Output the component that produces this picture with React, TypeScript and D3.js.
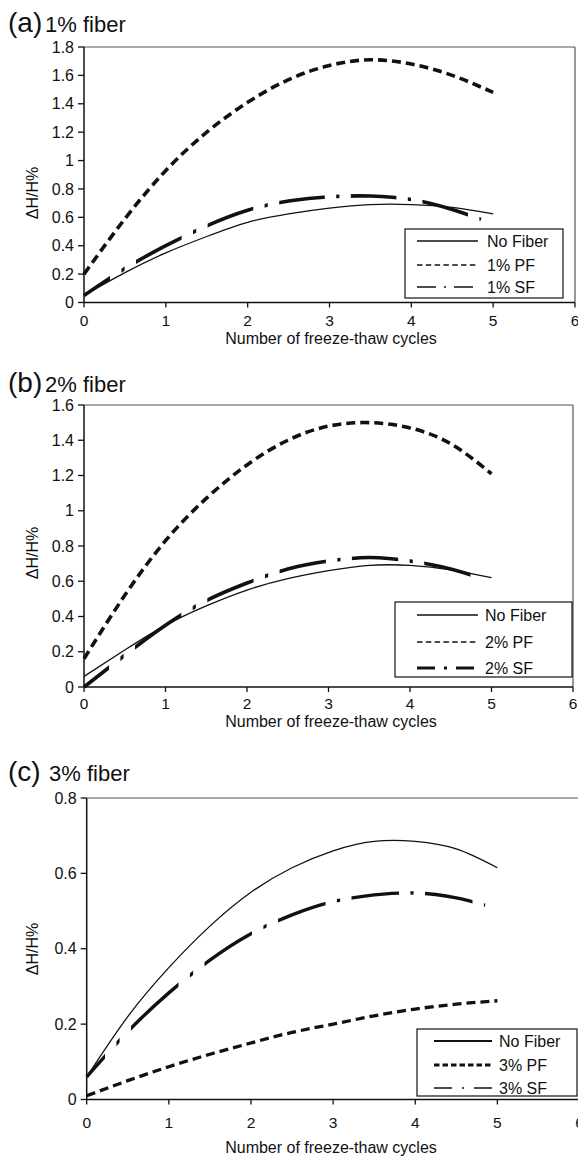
import React from "react";
import * as d3 from "d3";

// ---------- data ----------
const cycles = [0, 0.5, 1, 1.5, 2, 2.5, 3, 3.5, 4, 4.5, 5];
const cyclesSF = [0, 0.5, 1, 1.5, 2, 2.5, 3, 3.5, 4, 4.5, 4.85];
const xTickValues = [0, 1, 2, 3, 4, 5, 6];

// (a) 1% fiber
const noFiberA = [0.05, 0.21, 0.35, 0.465, 0.565, 0.625, 0.665, 0.69, 0.69, 0.67, 0.625];
const pfA = [0.2, 0.59, 0.93, 1.2, 1.41, 1.57, 1.67, 1.71, 1.68, 1.6, 1.48];
const sfA = [0.05, 0.24, 0.4, 0.54, 0.65, 0.715, 0.745, 0.75, 0.725, 0.655, 0.585];
const yTicksA = [0, 0.2, 0.4, 0.6, 0.8, 1, 1.2, 1.4, 1.6, 1.8];
const legendA = ["No Fiber", "1% PF", "1% SF"];

// (b) 2% fiber
const noFiberB = [0.06, 0.21, 0.35, 0.46, 0.55, 0.615, 0.66, 0.69, 0.69, 0.665, 0.62];
const pfB = [0.16, 0.52, 0.83, 1.07, 1.26, 1.4, 1.48, 1.5, 1.47, 1.38, 1.21];
const sfB = [0.0, 0.18, 0.35, 0.49, 0.59, 0.67, 0.715, 0.735, 0.715, 0.67, 0.62];
const yTicksB = [0, 0.2, 0.4, 0.6, 0.8, 1, 1.2, 1.4, 1.6];
const legendB = ["No Fiber", "2% PF", "2% SF"];

// (c) 3% fiber
const noFiberC = [0.06, 0.22, 0.35, 0.46, 0.55, 0.615, 0.66, 0.685, 0.685, 0.665, 0.615];
const pfC = [0.01, 0.05, 0.087, 0.12, 0.15, 0.178, 0.2, 0.222, 0.24, 0.253, 0.262];
const sfC = [0.06, 0.18, 0.283, 0.37, 0.44, 0.49, 0.525, 0.543, 0.548, 0.535, 0.515];
const yTicksC = [0, 0.2, 0.4, 0.6, 0.8];
const legendC = ["No Fiber", "3% PF", "3% SF"];

const titles = ["(a)", "(b)", "(c)"];
const subtitles = ["1% fiber", "2% fiber", "3% fiber"];
const xLabel = "Number of freeze-thaw cycles";
const yLabel = "ΔH/H%";

// ---------- layout ----------
const FONT = "'Liberation Sans', Arial, Helvetica, sans-serif";

type Cfg = {
  id: string;
  title: string;
  subtitle: string;
  subX: number;
  titleBase: number;
  left: number;
  right: number;
  top: number;
  bottom: number;
  yMax: number;
  yTicks: number[];
  noFiber: number[];
  pf: number[];
  sf: number[];
  legend: string[];
  legBox: [number, number, number, number];
  legLineX: [number, number];
  legTextX: number;
  legRows: number[];
  legStyles: { w: number; dash: string }[];
  pfWidth: number;
  pfDash: string;
  sfWidth: number;
  dot0: number;
  period: number;
  xTickBase: number;
  xLabelBase: number;
  yLabelY: number;
  showRight: boolean;
};

const panels: Cfg[] = [
  {
    id: "a", title: titles[0], subtitle: subtitles[0], subX: 45, titleBase: 31.5,
    left: 84, right: 575, top: 47, bottom: 302.5, yMax: 1.8, yTicks: yTicksA,
    noFiber: noFiberA, pf: pfA, sf: sfA, legend: legendA,
    legBox: [405, 229, 563, 298], legLineX: [417, 478], legTextX: 487, legRows: [241, 265, 287],
    legStyles: [{ w: 1.4, dash: "" }, { w: 1.5, dash: "5.5,3.3" }, { w: 1.5, dash: "19,8,2,8" }],
    pfWidth: 3.6, pfDash: "9,5", sfWidth: 3.6, dot0: 123, period: 71.6,
    xTickBase: 325.5, xLabelBase: 344, yLabelY: 193, showRight: true,
  },
  {
    id: "b", title: titles[1], subtitle: subtitles[1], subX: 45, titleBase: 391.5,
    left: 84, right: 573, top: 405, bottom: 687, yMax: 1.6, yTicks: yTicksB,
    noFiber: noFiberB, pf: pfB, sf: sfB, legend: legendB,
    legBox: [395, 602, 572, 677], legLineX: [417, 478], legTextX: 485, legRows: [615, 642, 668],
    legStyles: [{ w: 1.4, dash: "" }, { w: 1.5, dash: "5.5,3.3" }, { w: 3, dash: "18,9,3,9" }],
    pfWidth: 3.6, pfDash: "9,5", sfWidth: 3.6, dot0: 122, period: 72.3,
    xTickBase: 708.5, xLabelBase: 727, yLabelY: 553, showRight: true,
  },
  {
    id: "c", title: titles[2], subtitle: subtitles[2], subX: 49, titleBase: 780.5,
    left: 86.7, right: 579.5, top: 798, bottom: 1099.5, yMax: 0.8, yTicks: yTicksC,
    noFiber: noFiberC, pf: pfC, sf: sfC, legend: legendC,
    legBox: [417, 1029, 577, 1096], legLineX: [434, 492], legTextX: 499, legRows: [1041, 1065, 1088],
    legStyles: [{ w: 2.2, dash: "" }, { w: 2.8, dash: "5.5,3" }, { w: 1.5, dash: "18,10,2,10" }],
    pfWidth: 3.3, pfDash: "9,5", sfWidth: 3.4, dot0: 118, period: 73.5,
    xTickBase: 1128, xLabelBase: 1153, yLabelY: 949, showRight: false,
  },
];

function PanelView({ cfg }: { cfg: Cfg }) {
  const x = d3.scaleLinear().domain([0, 6]).range([cfg.left, cfg.right]);
  const y = d3.scaleLinear().domain([0, cfg.yMax]).range([cfg.bottom, cfg.top]);
  const line = d3
    .line<[number, number]>()
    .x((d) => x(d[0]))
    .y((d) => y(d[1]))
    .curve(d3.curveNatural);

  const nf = line(cycles.map((c, i) => [c, cfg.noFiber[i]] as [number, number])) || "";
  const pf = line(cycles.map((c, i) => [c, cfg.pf[i]] as [number, number])) || "";
  const sf = line(cyclesSF.map((c, i) => [c, cfg.sf[i]] as [number, number])) || "";

  // dash-dot pattern laid out along x (as in the original rendering)
  const gap = 13;
  const clips: [number, number][] = [];
  let c = cfg.dot0;
  clips.push([cfg.left - 5, c - gap]);
  while (c < cfg.right) {
    clips.push([c - 1.6, c + 1.6]);
    clips.push([c + gap, c + cfg.period - gap]);
    c += cfg.period;
  }
  const clipId = `sfclip-${cfg.id}`;

  const [bx0, by0, bx1, by1] = cfg.legBox;

  return (
    <g>
      <defs>
        <clipPath id={clipId}>
          {clips.map(([a, b], i) => (
            <rect key={i} x={a} y={cfg.top - 10} width={Math.max(0, b - a)} height={cfg.bottom - cfg.top + 20} />
          ))}
        </clipPath>
      </defs>

      {/* title */}
      <text x={8} y={cfg.titleBase} fontFamily={FONT} fontSize={28} fill="#111">
        {cfg.title}
      </text>
      <text x={cfg.subX} y={cfg.titleBase} fontFamily={FONT} fontSize={22} fill="#111">
        {cfg.subtitle}
      </text>

      {/* frame */}
      <line x1={cfg.left} x2={cfg.right} y1={cfg.top} y2={cfg.top} stroke="#555" strokeWidth={1.2} />
      {cfg.showRight && (
        <line x1={cfg.right} x2={cfg.right} y1={cfg.top} y2={cfg.bottom} stroke="#555" strokeWidth={1.2} />
      )}
      <line x1={cfg.left} x2={cfg.left} y1={cfg.top} y2={cfg.bottom} stroke="#111" strokeWidth={1.5} />
      <line x1={cfg.left} x2={cfg.right} y1={cfg.bottom} y2={cfg.bottom} stroke="#111" strokeWidth={1.5} />

      {/* y ticks */}
      {cfg.yTicks.map((t) => (
        <g key={`y${t}`}>
          <line x1={cfg.left - 6} x2={cfg.left} y1={y(t)} y2={y(t)} stroke="#111" strokeWidth={1.3} />
          <text x={cfg.left - 10} y={y(t) + 5.7} textAnchor="end" fontFamily={FONT} fontSize={16} fill="#111">
            {String(t)}
          </text>
        </g>
      ))}

      {/* x ticks */}
      {xTickValues.map((t) => (
        <g key={`x${t}`}>
          <line x1={x(t)} x2={x(t)} y1={cfg.bottom} y2={cfg.bottom + 5} stroke="#111" strokeWidth={1.3} />
          <text x={x(t)} y={cfg.xTickBase} textAnchor="middle" fontFamily={FONT} fontSize={15.5} fill="#111">
            {String(t)}
          </text>
        </g>
      ))}

      {/* axis labels */}
      <text x={331} y={cfg.xLabelBase} textAnchor="middle" fontFamily={FONT} fontSize={16} fill="#111">
        {xLabel}
      </text>
      <text
        transform={`translate(38,${cfg.yLabelY}) rotate(-90)`}
        textAnchor="middle"
        fontFamily={FONT}
        fontSize={16}
        fill="#111"
      >
        {yLabel}
      </text>

      {/* series */}
      <path d={nf} fill="none" stroke="#111" strokeWidth={1.3} />
      <path d={pf} fill="none" stroke="#111" strokeWidth={cfg.pfWidth} strokeDasharray={cfg.pfDash} />
      <path d={sf} fill="none" stroke="#111" strokeWidth={cfg.sfWidth} clipPath={`url(#${clipId})`} />

      {/* legend */}
      <rect x={bx0} y={by0} width={bx1 - bx0} height={by1 - by0} fill="#fff" stroke="#111" strokeWidth={1.2} />
      {cfg.legend.map((name, i) => (
        <g key={name}>
          <line
            x1={cfg.legLineX[0]}
            x2={cfg.legLineX[1]}
            y1={cfg.legRows[i]}
            y2={cfg.legRows[i]}
            stroke="#111"
            strokeWidth={cfg.legStyles[i].w}
            strokeDasharray={cfg.legStyles[i].dash || undefined}
          />
          <text x={cfg.legTextX} y={cfg.legRows[i] + 5.7} fontFamily={FONT} fontSize={16} fill="#111">
            {name}
          </text>
        </g>
      ))}
    </g>
  );
}

export default function App() {
  return (
    <svg
      width={578}
      height={1157}
      viewBox="0 0 578 1157"
      style={{ position: "absolute", left: 0, top: 0, background: "#fff" }}
    >
      <rect x={0} y={0} width={578} height={1157} fill="#fff" />
      {panels.map((p) => (
        <PanelView key={p.id} cfg={p} />
      ))}
    </svg>
  );
}
